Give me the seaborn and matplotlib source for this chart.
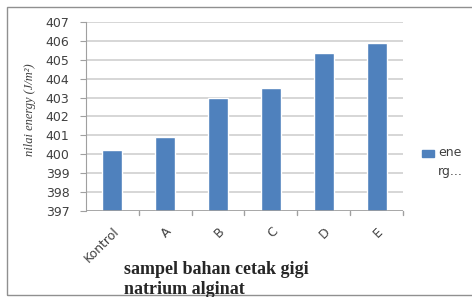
import matplotlib
matplotlib.use("Agg")
import matplotlib.pyplot as plt
import seaborn as sns
import pandas as pd
from matplotlib.patches import Rectangle

# Data
sampel = ["Kontrol", "A", "B", "C", "D", "E"]
energy = [400.23, 400.92, 403.0, 403.5, 405.35, 405.9]
yticks = list(range(397, 408))

df = pd.DataFrame({"sampel": sampel, "energy": energy})

sns.set_style("white")
fig = plt.figure(figsize=(4.72, 2.97), dpi=100)
ax = fig.add_axes([86 / 472, 1 - 211 / 297, (403 - 86) / 472, (211 - 22) / 297])

sns.barplot(data=df, x="sampel", y="energy", color="#4f81bd", width=0.38,
            ax=ax, zorder=3, saturation=1)

ax.set_ylim(397, 407)
ax.set_xlim(-0.5, 5.5)
ax.set_yticks(yticks)
ax.grid(True, axis="y", color="#cfcfcf", linewidth=1.2, zorder=0)
for s in ["top", "right", "bottom"]:
    ax.spines[s].set_visible(False)
ax.spines["left"].set_color("#a0a0a0")
ax.axhline(397, color="#a0a0a0", linewidth=1.2, zorder=4)

ax.tick_params(axis="y", length=4, color="#a0a0a0", labelsize=9,
               labelcolor="#404040", pad=8, left=True)
ax.set_xticks(range(len(sampel)))
ax.set_xticklabels(sampel, rotation=45, ha="right", rotation_mode="anchor",
                   fontsize=9, color="#404040")
ax.tick_params(axis="x", length=0, pad=10)
for b in [0.5, 1.5, 2.5, 3.5, 4.5, 5.5]:
    ax.plot([b, b], [397, 397 - 0.2], color="#a0a0a0", lw=1, clip_on=False)

ax.set_xlabel("")
ax.set_ylabel("")

fig.text(30 / 472, 1 - 110 / 297, "nilai energy (J/m²)", rotation=90,
         ha="center", va="center", fontsize=9, style="italic",
         family="Liberation Serif", color="#404040")

fig.text(124 / 472, 1 - 270 / 297, "sampel bahan cetak gigi", ha="left",
         va="center", fontsize=13, weight="bold", family="Liberation Serif")
fig.text(124 / 472, 1 - 289 / 297, "natrium alginat", ha="left",
         va="center", fontsize=13, weight="bold", family="Liberation Serif")

# legend
fig.patches.append(Rectangle((422 / 472, 1 - 157 / 297), 12 / 472, 7 / 297,
                             transform=fig.transFigure, color="#4f81bd"))
fig.text(438 / 472, 1 - 153 / 297, "ene", ha="left", va="center",
         fontsize=9, color="#404040")
fig.text(438 / 472, 1 - 171 / 297, "rg...", ha="left", va="center",
         fontsize=9, color="#404040")

# outer chart border
fig.patches.append(Rectangle((7 / 472, 2 / 297), 470 / 472, 288 / 297,
                             transform=fig.transFigure, fill=False,
                             edgecolor="#909090", linewidth=1))

fig.savefig("out.png", dpi=100)
